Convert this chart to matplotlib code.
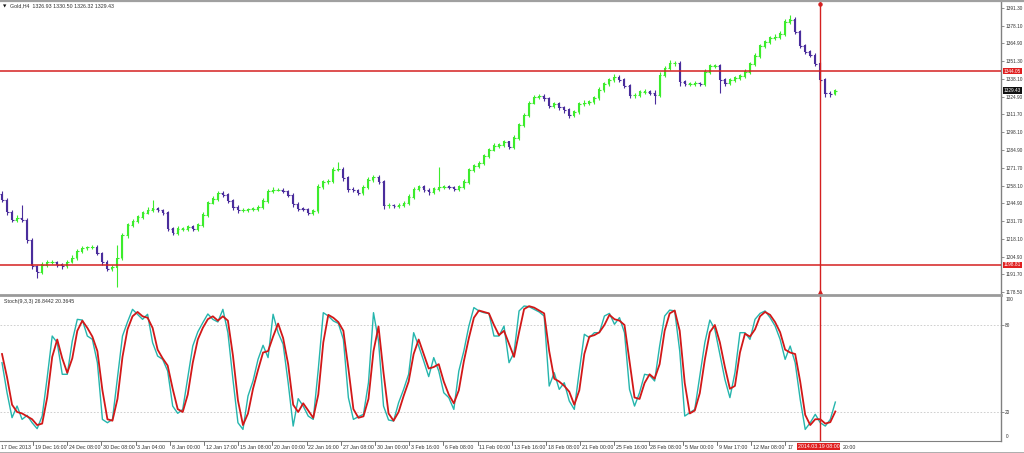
import numpy as np
import matplotlib
matplotlib.use("Agg")
import matplotlib.pyplot as plt
from matplotlib.lines import Line2D
from matplotlib.transforms import blended_transform_factory

plt.rcParams['font.family'] = ['Liberation Sans', 'DejaVu Sans']

# ---------------- data ----------------
first_open = 1252.0
closes = [
    1247.5, 1238.5, 1232.5, 1234, 1232.5, 1217.5, 1198, 1193.5, 1199, 1201,
    1201, 1199, 1198, 1201, 1204, 1209, 1211.5, 1212, 1212, 1207.5,
    1201, 1196, 1197, 1204, 1221, 1229, 1231.5, 1235, 1238, 1240,
    1241, 1240, 1238, 1226, 1223, 1226, 1226, 1227.5, 1226, 1229,
    1236.5, 1245.5, 1248.5, 1252.5, 1251.5, 1247, 1242, 1240, 1240, 1240.5,
    1241, 1242, 1247, 1254, 1255, 1255, 1254, 1251, 1244.5, 1241,
    1240.5, 1238, 1239.5, 1257.5, 1261, 1261.5, 1270, 1270.5, 1264, 1255.5,
    1255, 1253, 1257, 1262.5, 1264.5, 1261, 1243.5, 1243.5, 1243, 1243.5,
    1245, 1250, 1255.5, 1257.5, 1255, 1253.5, 1256, 1257, 1257.5, 1257,
    1256, 1257.5, 1261, 1270, 1273, 1275, 1280.5, 1285, 1288, 1289,
    1291, 1287.5, 1294, 1304, 1311, 1320, 1324.5, 1325, 1323.5, 1318,
    1319.5, 1317, 1315, 1311, 1313.5, 1319.5, 1320, 1321, 1324, 1330,
    1334.5, 1337.5, 1339.5, 1337.5, 1333, 1326, 1326, 1328.5, 1328.5, 1327.5,
    1326, 1341, 1346, 1350, 1350, 1336, 1334.5, 1334.5, 1335, 1334.5,
    1343.5, 1348, 1348, 1337.5, 1335, 1337.5, 1339, 1340.5, 1343.5, 1349.5,
    1355.5, 1363, 1366, 1369, 1369.5, 1372, 1381, 1382.5, 1373.5, 1363,
    1358.5, 1356, 1349.5, 1337.5, 1327.5, 1326.93, 1329.43]
upper_wick = [
    2, 1.5, 1.5, 2, 10, 1.5, 1.5, 1, 2, 1.5,
    1.5, 1, 1.5, 1.5, 2, 1.5, 1.5, 1, 1.5, 1.5,
    1, 1.5, 1.5, 9.5, 2, 1.5, 2, 1.5, 1.5, 2,
    6.5, 1.5, 1, 1.5, 1.5, 2, 1.5, 1, 1.5, 1.5,
    2, 1.5, 2, 1.5, 1.5, 1, 1.5, 1.5, 1.5, 1,
    1.5, 1.5, 2, 1.5, 2, 1.5, 1.5, 1, 1.5, 1.5,
    1.5, 1, 1.5, 2, 1.5, 2, 2, 5.5, 1.5, 1.5,
    1.5, 1, 1.5, 2, 1.5, 1.5, 1.5, 1.5, 1, 1.5,
    1.5, 2, 1.5, 1.5, 1, 1.5, 1.5, 15, 1.5, 1.5,
    1, 1.5, 2, 1.5, 1.5, 2, 1.5, 1.5, 2, 1.5,
    1.5, 1, 2, 1.5, 2, 1.5, 1.5, 2, 1.5, 1,
    1.5, 1.5, 1, 1.5, 1.5, 1.5, 2, 1.5, 1.5, 2,
    1.5, 1.5, 2, 1.5, 1, 1.5, 1.5, 1.5, 2, 1.5,
    2.5, 2, 2, 2.5, 1.5, 1.5, 1.5, 1.5, 1.5, 1,
    2, 1.5, 1.5, 1.5, 1.5, 1.5, 1.5, 1.5, 2, 1.5,
    2, 1.5, 1.5, 1.5, 2, 2, 2, 3.5, 2, 1.5,
    1.5, 1.5, 1.5, 1.5, 1.5, 1.5, 1.07]
lower_wick = [
    1.5, 2, 1.5, 1.5, 1.5, 2, 2, 4.5, 1.5, 1.5,
    1.5, 1.5, 2, 1.5, 1, 1.5, 1.5, 1.5, 1.5, 1.5,
    2, 2, 1.5, 15, 1.5, 2, 1.5, 1.5, 1.5, 1,
    1.5, 1.5, 1.5, 2, 2, 1.5, 1.5, 1.5, 2, 1.5,
    1.5, 1.5, 1, 1.5, 1.5, 1.5, 2, 2, 1.5, 1.5,
    1, 1.5, 1.5, 1.5, 1.5, 1, 1.5, 1.5, 2, 1.5,
    1.5, 2, 1.5, 1.5, 1.5, 1.5, 1.5, 1, 2, 2,
    1.5, 2, 1.5, 1.5, 1.5, 1.5, 2.5, 2, 1.5, 1.5,
    1.5, 1.5, 1.5, 1, 1.5, 2, 1.5, 1.5, 1.5, 1.5,
    1.5, 1.5, 1.5, 1.5, 1.5, 1.5, 1.5, 1.5, 1, 1.5,
    1.5, 2, 1.5, 1.5, 1.5, 1.5, 1, 1.5, 2, 2,
    1.5, 2, 2, 2, 1.5, 1.5, 1.5, 1.5, 1.5, 1.5,
    1.5, 1.5, 1.5, 1.5, 2, 2.5, 2, 1.5, 1.5, 1.5,
    7, 1.5, 1.5, 1.5, 2, 3, 2, 1.5, 1.5, 2,
    1.5, 1.5, 1.5, 10, 2, 1.5, 1.5, 1.5, 1.5, 1.5,
    1.5, 1.5, 1.5, 1.5, 1.5, 1.5, 1.5, 1.5, 2, 2,
    2, 1.5, 1.5, 2, 3, 2, 0.61]
stoch_main = [
    54.0, 33.3, 16.1, 24.1, 14.9, 17.7, 12.6, 8.5, 17.2, 43.7,
    72.4, 67.8, 46.0, 46.0, 69.0, 83.9, 83.4, 72.4, 70.1, 54.0,
    14.9, 12.6, 14.9, 43.7, 72.4, 82.1, 90.8, 87.4, 83.9, 87.4,
    67.8, 58.6, 56.3, 48.3, 24.1, 19.1, 21.8, 43.7, 65.5, 75.2,
    81.6, 87.6, 83.9, 82.1, 90.8, 74.7, 42.5, 12.6, 8.0, 31.0,
    41.4, 56.3, 66.0, 57.5, 87.4, 74.7, 66.7, 40.2, 10.3, 29.2,
    24.1, 17.2, 14.9, 49.4, 88.5, 86.2, 82.8, 81.1, 70.1, 29.9,
    14.9, 16.8, 18.4, 40.2, 88.5, 69.0, 24.1, 14.5, 13.8, 26.4,
    35.6, 46.0, 74.7, 65.5, 55.2, 44.4, 57.5, 48.3, 33.3, 29.9,
    21.8, 48.3, 62.1, 79.3, 92.0, 89.7, 88.5, 88.0, 72.4, 72.4,
    79.3, 54.0, 60.9, 89.7, 93.1, 92.6, 90.8, 89.0, 86.2, 37.9,
    47.1, 35.6, 40.2, 27.6, 21.8, 48.3, 73.6, 71.3, 74.7, 74.7,
    86.2, 88.0, 80.5, 85.1, 74.7, 35.6, 24.1, 33.3, 46.0, 45.3,
    41.4, 65.5, 86.2, 90.3, 89.7, 62.1, 17.2, 19.5, 21.8, 44.8,
    67.8, 83.4, 77.0, 59.8, 42.5, 29.9, 47.1, 74.7, 74.7, 70.1,
    83.9, 88.0, 89.7, 85.1, 79.3, 70.1, 56.3, 65.5, 54.0, 28.7,
    8.0, 12.6, 18.4, 12.6, 10.3, 14.9, 26.8442]
stoch_signal = [
    60, 44, 25, 20, 19, 17, 15, 11, 12, 30,
    58, 70, 57, 47, 57, 76, 83, 78, 72, 62,
    35, 15, 14, 29, 58, 77, 86, 89, 86, 85,
    78, 63, 57, 52, 36, 22, 20, 32, 54, 70,
    78, 84, 86, 83, 86, 83, 59, 28, 11, 19,
    36, 49, 61, 62, 72, 81, 71, 53, 25, 20,
    26, 21, 16, 32, 68, 87, 85, 82, 76, 50,
    22, 16, 17, 29, 62, 79, 47, 19, 14, 20,
    31, 41, 60, 70, 60, 50, 51, 53, 41, 32,
    26, 35, 55, 71, 85, 90, 89, 88, 80, 73,
    76, 67, 58, 75, 91, 93, 92, 90, 88, 62,
    43, 41, 38, 34, 25, 35, 60, 72, 73, 75,
    80, 87, 84, 83, 80, 55, 30, 29, 40, 46,
    43, 53, 76, 88, 90, 76, 40, 19, 21, 33,
    56, 75, 80, 68, 51, 36, 38, 61, 74, 72,
    77, 86, 89, 87, 82, 75, 63, 61, 60, 41,
    18, 11, 15, 15, 12, 13, 20.3645]
price_ticks = [1391.30, 1378.10, 1364.90, 1351.30, 1338.10, 1324.90, 1311.70,
               1298.10, 1284.90, 1271.70, 1258.10, 1244.90, 1231.70, 1218.10,
               1204.90, 1191.70, 1178.50]
stoch_levels = [80, 20]
time_labels = ["17 Dec 2013", "19 Dec 16:00", "24 Dec 08:00", "30 Dec 08:00",
               "3 Jan 04:00", "8 Jan 00:00", "12 Jan 17:00", "15 Jan 08:00",
               "20 Jan 00:00", "22 Jan 16:00", "27 Jan 08:00", "30 Jan 00:00",
               "3 Feb 16:00", "6 Feb 08:00", "11 Feb 00:00", "13 Feb 16:00",
               "18 Feb 08:00", "21 Feb 00:00", "25 Feb 16:00", "28 Feb 08:00",
               "5 Mar 00:00", "9 Mar 17:00", "12 Mar 08:00", "17"]
time_label_tail = "20:00"   # visible end of the label hidden by the cursor box
level_high = 1344.05
level_low = 1198.81
last_price = 1329.43
cursor_bar = 163
cursor_label = "2014.03.19 08:00"
header_text = "Gold,H4  1326.93 1330.50 1326.32 1329.43"
stoch_header = "Stoch(9,3,3) 26.8442 20.3645"

# ---------------- figure ----------------
W, H = 1024, 453
fig = plt.figure(figsize=(W / 100, H / 100), dpi=100)
fig.patch.set_facecolor('white')

def fx(px):
    return px / W

def fy(py):
    return 1 - py / H

ax = fig.add_axes([0, fy(294), fx(1001), (294 - 2) / H])
ax2 = fig.add_axes([0, fy(441), fx(1001), (441 - 296) / H])

XMIN, XMAX = -0.4, 199.0
px_per_bar = 1001 / (XMAX - XMIN)
FS = 3.8
FSY = 3.4
TXT = '#303030'
RED = '#d42020'

n = len(closes)
x = np.arange(n)
c = np.array(closes, dtype=float)
o = np.concatenate([[first_open], c[:-1]])
hi = np.maximum(o, c) + np.array(upper_wick)
lo = np.minimum(o, c) - np.array(lower_wick)
cols = np.where(c >= o, '#3cec2c', '#4a2d9c')
ax.vlines(x, lo, hi, colors=cols, lw=0.8, zorder=3)
ax.vlines(x, np.minimum(o, c) - 0.3, np.maximum(o, c) + 0.3, colors=cols, lw=1.5, zorder=3)
# open / close ticks of the bar chart
ax.hlines(o, x - 0.35, x, colors=cols, lw=0.8, zorder=3)
ax.hlines(c, x, x + 0.35, colors=cols, lw=0.8, zorder=3)

ax.axhline(level_high, color=RED, lw=1.1, zorder=4)
ax.axhline(level_low, color=RED, lw=1.1, zorder=4)
ax.axvline(cursor_bar, color=RED, lw=1.0, zorder=4)
ax2.axvline(cursor_bar, color=RED, lw=1.0, zorder=4)

ax.set_xlim(XMIN, XMAX)
ax.set_ylim(1177.0, 1395.8)
ax.plot([cursor_bar], [1394.6], marker='o', ms=2.2, color=RED, clip_on=False, zorder=5)
ax.plot([cursor_bar], [1178.6], marker='^', ms=2.5, color=RED, clip_on=False, zorder=5)

for a in (ax, ax2):
    a.set_facecolor('white')
    for s in ('left', 'top', 'bottom'):
        a.spines[s].set_visible(False)
    a.spines['right'].set_color('#808080')
    a.spines['right'].set_linewidth(1.0)
    a.yaxis.tick_right()
    a.tick_params(axis='y', labelsize=FSY, length=2.0, width=0.6, color='#808080',
                  pad=1.0, labelcolor=TXT)
    a.set_xticks([])

ax.set_yticks(price_ticks, labels=[f"{v:.2f}" for v in price_ticks])

ytr = ax.get_yaxis_transform()
box_kw = dict(boxstyle='square,pad=0.15', ec='none')
for val, fc in ((level_high, '#e02020'), (level_low, '#e02020'), (last_price, '#101010')):
    ax.text(1.003, val, f"{val:.2f}", transform=ytr, ha='left', va='center',
            fontsize=FSY, color='white', bbox=dict(fc=fc, **box_kw), clip_on=False, zorder=6)

# stochastic panel
for lv in stoch_levels:
    ax2.axhline(lv, color='#c8c8c8', lw=0.6, ls=(0, (2, 2)), zorder=1)
ax2.plot(x, stoch_main, color='#25b5ad', lw=1.0, zorder=3)
ax2.plot(x, stoch_signal, color='#d21818', lw=1.3, zorder=3)
ax2.set_xlim(XMIN, XMAX)
ax2.set_ylim(0, 100)
ax2.set_yticks(stoch_levels, labels=[str(v) for v in stoch_levels])
ax2.spines['bottom'].set_visible(True)
ax2.spines['bottom'].set_color('#808080')
ytr2 = ax2.get_yaxis_transform()
ax2.text(1.005, 99, "100", transform=ytr2, ha='left', va='top', fontsize=FSY, color=TXT, clip_on=False)
ax2.text(1.005, 1.5, "0", transform=ytr2, ha='left', va='bottom', fontsize=FSY, color=TXT, clip_on=False)

# time axis labels
xtr = blended_transform_factory(ax2.transData, ax2.transAxes)
lab_start = -1.2 / px_per_bar + XMIN
lab_step = 34.2 / px_per_bar
for k, lab in enumerate(time_labels):
    pos = lab_start + k * lab_step
    ax2.plot([pos, pos], [0, -0.03], transform=xtr, color='#606060', lw=0.6, clip_on=False)
    ax2.text(pos + 0.35, -0.025, lab, transform=xtr, ha='left', va='top', fontsize=FS,
             color=TXT, clip_on=False)
ax2.text(lab_start + len(time_labels) * lab_step + 4.7, -0.025, time_label_tail, transform=xtr,
         ha='left', va='top', fontsize=FS, color=TXT, clip_on=False)
ax2.text(cursor_bar - 0.3, -0.02, cursor_label, transform=xtr, ha='center', va='top', fontsize=FS,
         color='white', bbox=dict(boxstyle='square,pad=0.12', fc='#e02020', ec='none'),
         clip_on=False, zorder=10)

# headers
fig.text(fx(3), fy(6), "\u25bc", fontsize=3.2, va='center', ha='left', color='#101010',
         family='DejaVu Sans')
fig.text(fx(10), fy(6), header_text, fontsize=FS, va='center', ha='left', color=TXT)
fig.text(fx(4), fy(301), stoch_header, fontsize=FS, va='center', ha='left', color=TXT)

# window borders
fig.add_artist(Line2D([0, 1], [fy(0.6)] * 2, color='#a0a0a0', lw=1.6))
fig.add_artist(Line2D([0, fx(1001)], [fy(295)] * 2, color='#9a9a9a', lw=2.0))
fig.add_artist(Line2D([0, 1], [fy(452.5)] * 2, color='#a0a0a0', lw=1.2))

fig.savefig("out.png", dpi=100, facecolor='white')
